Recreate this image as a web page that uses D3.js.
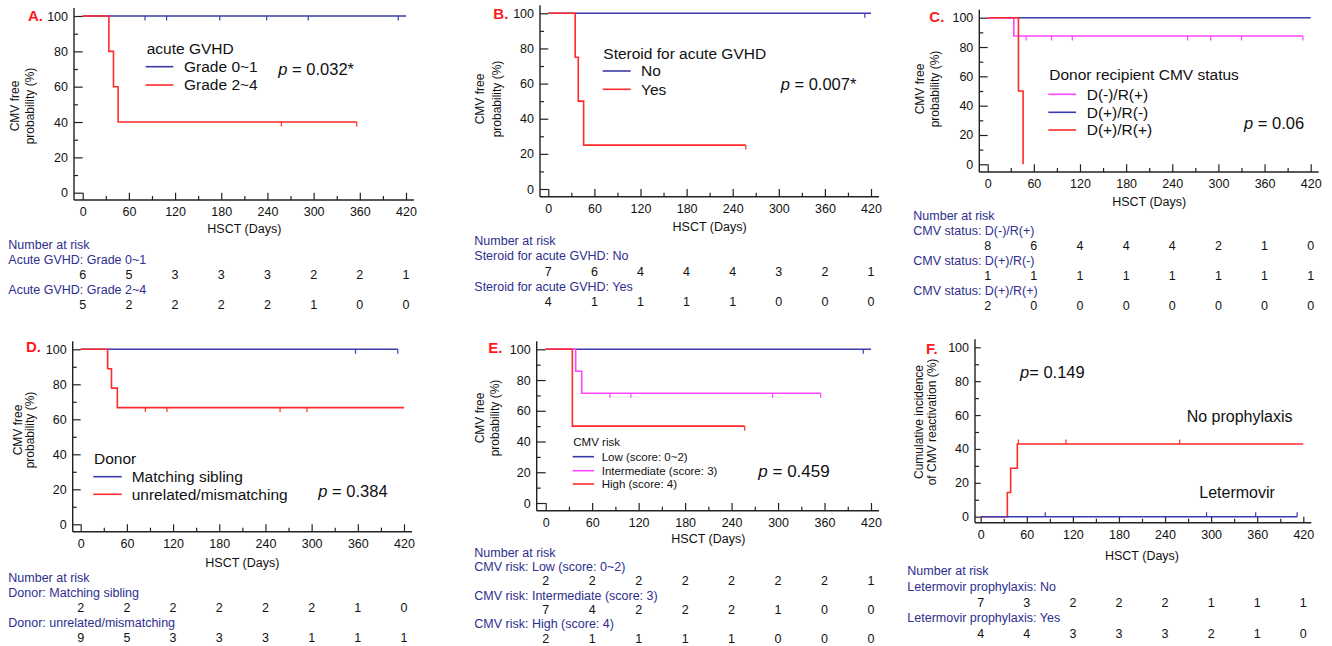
<!DOCTYPE html>
<html>
<head>
<meta charset="utf-8">
<script src="https://cdn.jsdelivr.net/npm/d3@7"></script>
<style>
  body { margin: 0; background: #fff; }
  svg { display: block; font-family: Arial, "Liberation Sans", sans-serif; }
</style>
</head>
<body>
<svg id="chart" width="1332" height="646"></svg>
<script>
// shared axis ticks
const dayTicks = [0, 60, 120, 180, 240, 300, 360, 420];
const dayMinor = [30, 90, 150, 210, 270, 330, 390];
const pctTicks = [0, 20, 40, 60, 80, 100];
const pctMinor = [10, 30, 50, 70, 90];

// A. acute GVHD
const aGrade01 = [[0, 100], [420, 100]];
const aGrade01Cens = [81, 109, 178, 239, 293, 410];
const aGrade24 = [[0, 100], [34, 80], [40, 60], [46, 40], [356, 40]];
const aGrade24Cens = [258, 356];
const aRiskLabels = ["Acute GVHD: Grade 0~1", "Acute GVHD: Grade 2~4"];
const aRisk01 = [6, 5, 3, 3, 3, 2, 2, 1];
const aRisk24 = [5, 2, 2, 2, 2, 1, 0, 0];

// B. steroid
const bNo = [[0, 100], [420, 100]];
const bNoCens = [412];
const bYes = [[0, 100], [35, 75], [39, 50], [46, 25], [257, 25]];
const bYesCens = [257];
const bRiskLabels = ["Steroid for acute GVHD: No", "Steroid for acute GVHD: Yes"];
const bRiskNo = [7, 6, 4, 4, 4, 3, 2, 1];
const bRiskYes = [4, 1, 1, 1, 1, 0, 0, 0];

// C. donor / recipient CMV status
const cDmRp = [[0, 100], [34, 87.5], [410, 87.5]];
const cDmRpCens = [50, 83, 110, 260, 290, 330, 410];
const cDpRm = [[0, 100], [420, 100]];
const cDpRp = [[0, 100], [40, 50], [46, 0]];
const cRiskLabels = ["CMV status: D(-)/R(+)", "CMV status: D(+)/R(-)", "CMV status: D(+)/R(+)"];
const cRiskDmRp = [8, 6, 4, 4, 4, 2, 1, 0];
const cRiskDpRm = [1, 1, 1, 1, 1, 1, 1, 1];
const cRiskDpRp = [2, 0, 0, 0, 0, 0, 0, 0];

// D. donor
const dSib = [[0, 100], [412, 100]];
const dSibCens = [357, 412];
const dUnrel = [[0, 100], [35, 88.9], [40, 77.8], [47.6, 66.7], [420, 66.7]];
const dUnrelCens = [84, 112, 259, 294];
const dRiskLabels = ["Donor: Matching sibling", "Donor: unrelated/mismatching"];
const dRiskSib = [2, 2, 2, 2, 2, 2, 1, 0];
const dRiskUnrel = [9, 5, 3, 3, 3, 1, 1, 1];

// E. CMV risk
const eLow = [[0, 100], [420, 100]];
const eLowCens = [410];
const eInt = [[0, 100], [38.7, 85.7], [46.5, 71.4], [355, 71.4]];
const eIntCens = [83, 110, 293, 355];
const eHigh = [[0, 100], [34.4, 50], [257, 50]];
const eHighCens = [257];
const eRiskLabels = ["CMV risk: Low (score: 0~2)", "CMV risk: Intermediate (score: 3)", "CMV risk: High (score: 4)"];
const eRiskLow = [2, 2, 2, 2, 2, 2, 2, 1];
const eRiskInt = [7, 4, 2, 2, 2, 1, 0, 0];
const eRiskHigh = [2, 1, 1, 1, 1, 0, 0, 0];

// F. letermovir (cumulative incidence)
const fNo = [[0, 0], [34.7, 14.3], [39, 28.6], [47.7, 42.9], [420, 42.9]];
const fNoCens = [49, 111, 259];
const fLet = [[0, 0], [412, 0]];
const fLetCens = [84, 294, 358, 412];
const fRiskLabels = ["Letermovir prophylaxis: No", "Letermovir prophylaxis: Yes"];
const fRiskNo = [7, 3, 2, 2, 2, 1, 1, 1];
const fRiskYes = [4, 4, 3, 3, 3, 2, 1, 0];

const BLUE = "#3b3bab", RED = "#ff2a2a", PINK = "#ff44ff";
const LABEL_BLUE = "#2e2e8e";

const svg = d3.select("#chart");

const panels = [
  {
    letter: "A.", letterX: 28, letterY: 21.3,
    axisX: 74, x0: 82.7, x1: 406, yTop: 16, yBot: 192.7, axisY: 200,
    yTitle: ["CMV free", "probability (%)"], yTitleX: [15, 30], yTitleY: 106,
    titleY: 228.5, narY: 244.3, step: 15, riskX: 8.3,
    curves: [
      { pts: aGrade01, cens: aGrade01Cens, color: BLUE },
      { pts: aGrade24, cens: aGrade24Cens, color: RED }
    ],
    legend: { title: "acute GVHD", titleX: 146.7, titleY: 54, lx0: 145.7, lx1: 173.3, tx: 184,
      rows: [66.7, 85], items: [["Grade 0~1", BLUE], ["Grade 2~4", RED]], size: 15.5 },
    pText: { pre: "p", rest: " = 0.032*", x: 278.3, y: 75, size: 16.5 },
    riskLabels: aRiskLabels, risk: [aRisk01, aRisk24]
  },
  {
    letter: "B.", letterX: 493.3, letterY: 19.3,
    axisX: 540, x0: 548.3, x1: 871, yTop: 13.3, yBot: 189, axisY: 196.7,
    yTitle: ["CMV free", "probability (%)"], yTitleX: [480, 496.7], yTitleY: 99,
    titleY: 226.5, narY: 241, step: 15.1, riskX: 474.3,
    curves: [
      { pts: bNo, cens: bNoCens, color: BLUE },
      { pts: bYes, cens: bYesCens, color: RED }
    ],
    legend: { title: "Steroid for acute GVHD", titleX: 603.3, titleY: 59.3, lx0: 602.7, lx1: 630.7, tx: 641,
      rows: [71, 89.3], items: [["No", BLUE], ["Yes", RED]], size: 15.5 },
    pText: { pre: "p", rest: " = 0.007*", x: 780.7, y: 90.3, size: 16.5 },
    riskLabels: bRiskLabels, risk: [bRiskNo, bRiskYes]
  },
  {
    letter: "C.", letterX: 929.3, letterY: 21.7,
    axisX: 979.3, x0: 987.7, x1: 1310.7, yTop: 17.7, yBot: 164.3, axisY: 172,
    yTitle: ["CMV free", "probability (%)"], yTitleX: [920, 935], yTitleY: 89,
    titleY: 202, narY: 216, step: 15, riskX: 913.3,
    curves: [
      { pts: cDpRm, cens: [], color: BLUE },
      { pts: cDmRp, cens: cDmRpCens, color: PINK },
      { pts: cDpRp, cens: [], color: RED }
    ],
    legend: { title: "Donor recipient CMV status", titleX: 1049.3, titleY: 80.3, lx0: 1048.3, lx1: 1076, tx: 1086.7,
      rows: [94.3, 112.3, 130], items: [["D(-)/R(+)", PINK], ["D(+)/R(-)", BLUE], ["D(+)/R(+)", RED]], size: 15.5 },
    pText: { pre: "p", rest: " = 0.06", x: 1244, y: 128.5, size: 16.5 },
    riskLabels: cRiskLabels, risk: [cRiskDmRp, cRiskDpRm, cRiskDpRp]
  },
  {
    letter: "D.", letterX: 26, letterY: 351.7,
    axisX: 72.7, x0: 80.7, x1: 404, yTop: 349.3, yBot: 524.3, axisY: 531.7,
    yTitle: ["CMV free", "probability (%)"], yTitleX: [17.3, 29.3], yTitleY: 430,
    titleY: 562.7, narY: 577.7, step: 15, riskX: 8.3,
    curves: [
      { pts: dSib, cens: dSibCens, color: BLUE },
      { pts: dUnrel, cens: dUnrelCens, color: RED }
    ],
    legend: { title: "Donor", titleX: 94, titleY: 464.3, lx0: 93.3, lx1: 121.7, tx: 131.7,
      rows: [476.7, 494.3], items: [["Matching sibling", BLUE], ["unrelated/mismatching", RED]], size: 15.5 },
    pText: { pre: "p", rest: " = 0.384", x: 318.3, y: 496.7, size: 16.5 },
    riskLabels: dRiskLabels, risk: [dRiskSib, dRiskUnrel]
  },
  {
    letter: "E.", letterX: 488.3, letterY: 353.3,
    axisX: 536.7, x0: 545.7, x1: 871, yTop: 349.3, yBot: 503, axisY: 510.7,
    yTitle: ["CMV free", "probability (%)"], yTitleX: [480, 495], yTitleY: 418,
    titleY: 539, narY: 552.3, step: 14.33, riskX: 474.3,
    curves: [
      { pts: eLow, cens: eLowCens, color: BLUE },
      { pts: eInt, cens: eIntCens, color: PINK },
      { pts: eHigh, cens: eHighCens, color: RED }
    ],
    legend: { title: "CMV risk", titleX: 573.3, titleY: 446, lx0: 572.7, lx1: 594, tx: 601.7,
      rows: [456.7, 470.7, 484], items: [["Low (score: 0~2)", BLUE], ["Intermediate (score: 3)", PINK], ["High (score: 4)", RED]], size: 11.5 },
    pText: { pre: "p", rest: " = 0.459", x: 758.3, y: 477.3, size: 17 },
    riskLabels: eRiskLabels, risk: [eRiskLow, eRiskInt, eRiskHigh]
  },
  {
    letter: "F.", letterX: 926, letterY: 354,
    axisX: 975, x0: 980.7, x1: 1303.3, yTop: 347.3, yBot: 516.7, axisY: 522.7,
    yTitle: ["Cumulative incidence", "of CMV reactivation (%)"], yTitleX: [918.3, 931.7], yTitleY: 422,
    titleY: 556, narY: 571, step: 15.6, riskX: 907.3, up: true,
    curves: [
      { pts: fNo, cens: fNoCens, color: RED },
      { pts: fLet, cens: fLetCens, color: BLUE }
    ],
    legend: null,
    pText: { pre: "p", rest: "= 0.149", x: 1020, y: 377.7, size: 16.5 },
    notes: [["No prophylaxis", 1186.7, 422.3], ["Letermovir", 1199.3, 498.3]],
    riskLabels: fRiskLabels, risk: [fRiskNo, fRiskYes]
  }
];

function valueAt(pts, t) {
  let v = pts[0][1];
  pts.forEach(d => { if (d[0] <= t) v = d[1]; });
  return v;
}

function styleAxis(sel) {
  sel.select(".domain").remove();
  sel.attr("font-size", null).attr("font-family", null);
  sel.selectAll(".tick line").attr("stroke", "#222").attr("stroke-width", 1.2);
  sel.selectAll(".tick text").attr("fill", "#111").style("font-size", "12.5px");
}

function drawPanel(p) {
  const g = svg.append("g");
  const x = d3.scaleLinear().domain([0, 420]).range([p.x0, p.x1]);
  const y = d3.scaleLinear().domain([0, 100]).range([p.yBot, p.yTop]);

  // axis lines
  g.append("line")
    .attr("x1", p.axisX).attr("x2", p.x1 + 8)
    .attr("y1", p.axisY).attr("y2", p.axisY)
    .attr("stroke", "#222").attr("stroke-width", 1.4);
  g.append("line")
    .attr("x1", p.axisX).attr("x2", p.axisX)
    .attr("y1", p.yTop - 8).attr("y2", p.axisY)
    .attr("stroke", "#222").attr("stroke-width", 1.4);

  const xMaj = g.append("g").attr("transform", `translate(0,${p.axisY})`)
    .call(d3.axisBottom(x).tickValues(dayTicks).tickSize(-(p.axisY - p.yBot)).tickPadding(7));
  styleAxis(xMaj);
  const xMin = g.append("g").attr("transform", `translate(0,${p.axisY})`)
    .call(d3.axisBottom(x).tickValues(dayMinor).tickSize(-4).tickFormat(""));
  styleAxis(xMin);

  const yMaj = g.append("g").attr("transform", `translate(${p.axisX},0)`)
    .call(d3.axisLeft(y).tickValues(pctTicks).tickSize(-(p.x0 - p.axisX)).tickPadding(6));
  styleAxis(yMaj);
  const yMin = g.append("g").attr("transform", `translate(${p.axisX},0)`)
    .call(d3.axisLeft(y).tickValues(pctMinor).tickSize(-4).tickFormat(""));
  styleAxis(yMin);

  // y title
  p.yTitle.forEach((t, i) => {
    g.append("text")
      .attr("transform", `translate(${p.yTitleX[i]},${p.yTitleY}) rotate(-90)`)
      .attr("text-anchor", "middle").attr("dy", "0.35em")
      .style("font-size", "12px").attr("fill", "#111")
      .text(t);
  });

  // x title
  g.append("text")
    .attr("x", (p.x0 + p.x1) / 2).attr("y", p.titleY).attr("dy", "0.35em")
    .attr("text-anchor", "middle").style("font-size", "12.5px").attr("fill", "#111")
    .text("HSCT (Days)");

  // panel letter
  g.append("text")
    .attr("x", p.letterX).attr("y", p.letterY)
    .style("font-size", "15px").style("font-weight", "bold").attr("fill", "#ff1a1a")
    .text(p.letter);

  // curves
  const line = d3.line().x(d => x(d[0])).y(d => y(d[1])).curve(d3.curveStepAfter);
  const dir = p.up ? -1 : 1;
  p.curves.forEach(c => {
    g.append("path").attr("d", line(c.pts))
      .attr("fill", "none").attr("stroke", c.color).attr("stroke-width", 1.6);
    g.selectAll(null).data(c.cens).join("line")
      .attr("x1", d => x(d)).attr("x2", d => x(d))
      .attr("y1", d => y(valueAt(c.pts, d)))
      .attr("y2", d => y(valueAt(c.pts, d)) + 4.5 * dir)
      .attr("stroke", c.color).attr("stroke-width", 1.2);
  });

  // legend
  if (p.legend) {
    const L = p.legend;
    g.append("text").attr("x", L.titleX).attr("y", L.titleY)
      .style("font-size", L.size + "px").attr("fill", "#111").text(L.title);
    L.items.forEach((it, i) => {
      g.append("line")
        .attr("x1", L.lx0).attr("x2", L.lx1).attr("y1", L.rows[i]).attr("y2", L.rows[i])
        .attr("stroke", it[1]).attr("stroke-width", 1.6);
      g.append("text").attr("x", L.tx).attr("y", L.rows[i]).attr("dy", "0.35em")
        .style("font-size", L.size + "px").attr("fill", "#111").text(it[0]);
    });
  }

  // p value
  const pt = g.append("text").attr("x", p.pText.x).attr("y", p.pText.y)
    .style("font-size", p.pText.size + "px").attr("fill", "#111");
  pt.append("tspan").style("font-style", "italic").text(p.pText.pre);
  pt.append("tspan").text(p.pText.rest);

  if (p.notes) {
    p.notes.forEach(n => {
      g.append("text").attr("x", n[1]).attr("y", n[2])
        .style("font-size", "16px").attr("fill", "#111").text(n[0]);
    });
  }

  // number at risk table
  g.append("text").attr("x", p.riskX).attr("y", p.narY).attr("dy", "0.35em")
    .style("font-size", "12.5px").attr("fill", LABEL_BLUE).text("Number at risk");
  p.risk.forEach((row, i) => {
    g.append("text").attr("x", p.riskX).attr("y", p.narY + p.step * (1 + 2 * i)).attr("dy", "0.35em")
      .style("font-size", "12.5px").attr("fill", LABEL_BLUE).text(p.riskLabels[i]);
    g.selectAll(null).data(row).join("text")
      .attr("x", (d, j) => x(dayTicks[j]))
      .attr("y", p.narY + p.step * (2 + 2 * i)).attr("dy", "0.35em")
      .attr("text-anchor", "middle").style("font-size", "12.5px").attr("fill", "#111")
      .text(d => d);
  });
}

panels.forEach(drawPanel);
</script>
</body>
</html>
